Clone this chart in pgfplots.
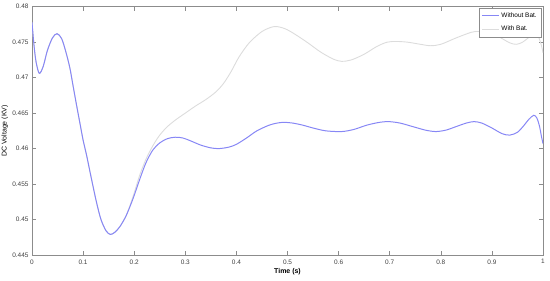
\documentclass[border=0pt]{standalone}
\usepackage{fontspec}
\setmainfont{Liberation Sans}
\usepackage{pgfplots}
\pgfplotsset{compat=1.18}
\definecolor{bl}{RGB}{135,135,245}
\definecolor{gr}{RGB}{220,220,220}
\definecolor{ax}{RGB}{140,140,140}
\begin{document}
\begin{tikzpicture}
\path[use as bounding box] (0,0) rectangle (550bp,281bp);
\begin{axis}[
  at={(32bp,26bp)}, anchor=south west,
  scale only axis, width=511bp, height=248.3bp,
  xmin=0, xmax=1, ymin=0.445, ymax=0.48,
  cycle list={{color=bl, line width=1bp},{color=gr, line width=0.9bp}},
  xtick={0,0.1,0.2,0.3,0.4,0.5,0.6,0.7,0.8,0.9,1},
  xticklabels={0,0.1,0.2,0.3,0.4,0.5,0.6,0.7,0.8,0.9,1},
  ytick={0.445,0.45,0.455,0.46,0.465,0.47,0.475,0.48},
  yticklabels={0.445,0.45,0.455,0.46,0.465,0.47,0.475,0.48},
  scaled ticks=false,
  tick align=inside, major tick length=4bp,
  tick style={color=ax, line width=0.6bp},
  axis line style={color=ax, line width=0.7bp},
  tick label style={font=\fontsize{6.5}{7}\selectfont, text=black!75},
  xticklabel style={yshift=-1bp},
  xlabel={\textbf{Time (s)}},
  ylabel={DC Voltage (KV)},
  label style={font=\fontsize{7}{8}\selectfont},
  xlabel style={at={(axis description cs:0.5,-0.068)}, anchor=center},
  ylabel style={at={(axis description cs:-0.053,0.5)}, anchor=center},
  legend style={at={(rel axis cs:0.996,0.994)}, anchor=north east, draw=ax,
    font=\fontsize{6.5}{7}\selectfont, inner xsep=2bp, inner ysep=2.5bp, row sep=3bp},
  legend cell align=left,
  legend image code/.code={\draw[#1] (0bp,0bp) -- (17bp,0bp);},
]
\addlegendimage{color=bl, line width=1bp}
\addlegendentry{Without Bat.}
\addlegendimage{color=gr, line width=0.9bp}
\addlegendentry{With Bat.}
\addplot[gr, line width=0.9bp, smooth, forget plot] coordinates {
(0,0.4778)(0.004,0.4745)(0.008,0.4722)(0.0143,0.4706)(0.022,0.4716)(0.03,0.4738)
(0.04,0.4756)(0.049,0.4762)(0.058,0.4755)(0.066,0.4737)(0.074,0.4714)(0.08,0.4690)
(0.087,0.4662)(0.094,0.4635)(0.1,0.4612)(0.107,0.4590)(0.115,0.4562)(0.126,0.4525)
(0.135,0.4500)(0.145,0.4484)(0.1534,0.4479)(0.162,0.4482)(0.172,0.4490)(0.1846,0.4506)
(0.198,0.4533)(0.2105,0.4562)(0.223,0.4585)(0.2365,0.4604)(0.25,0.4619)(0.265,0.4631)
(0.282,0.4641)(0.30,0.4650)(0.32,0.4660)(0.34,0.4669)(0.36,0.4680)(0.375,0.4692)
(0.39,0.4709)(0.405,0.4729)(0.425,0.4749)(0.45,0.4765)(0.474,0.4772)(0.495,0.4769)
(0.515,0.4761)(0.54,0.4749)(0.565,0.4736)(0.59,0.4726)(0.606,0.4723)(0.625,0.4725)
(0.65,0.4733)(0.675,0.4744)(0.695,0.4750)(0.713,0.4751)(0.735,0.4750)(0.76,0.4747)
(0.78,0.4745)(0.80,0.4747)(0.83,0.4756)(0.86,0.4764)(0.875,0.4765)(0.895,0.4763)
(0.915,0.4757)(0.935,0.4749)(0.948,0.4747)(0.96,0.4750)(0.975,0.4758)(0.985,0.4761)
(0.992,0.4756)(0.997,0.4745)(1.0,0.4735)
};
\addplot[bl, line width=1bp, smooth, forget plot] coordinates {
(0,0.4778)(0.004,0.4745)(0.008,0.4722)(0.0143,0.4706)(0.022,0.4716)(0.03,0.4738)
(0.04,0.4756)(0.049,0.4762)(0.058,0.4755)(0.066,0.4737)(0.074,0.4714)(0.08,0.4690)
(0.087,0.4662)(0.094,0.4635)(0.1,0.4612)(0.107,0.4590)(0.115,0.4562)(0.126,0.4525)
(0.135,0.4500)(0.145,0.4484)(0.1534,0.4479)(0.162,0.4482)(0.172,0.4490)(0.1846,0.4506)
(0.198,0.4530)(0.2105,0.4556)(0.223,0.4580)(0.2365,0.4598)(0.25,0.4608)(0.265,0.4614)
(0.28,0.4616)(0.295,0.4615)(0.31,0.4611)(0.33,0.4605)(0.35,0.4601)(0.366,0.4600)
(0.385,0.4602)(0.40,0.4606)(0.42,0.4615)(0.44,0.4625)(0.464,0.4633)(0.48,0.4636)
(0.493,0.4637)(0.51,0.4636)(0.53,0.4633)(0.55,0.4629)(0.575,0.4625)(0.606,0.4624)
(0.63,0.4627)(0.655,0.4633)(0.68,0.4637)(0.698,0.4638)(0.72,0.4636)(0.745,0.4631)
(0.77,0.4626)(0.79,0.4624)(0.81,0.4626)(0.83,0.4631)(0.85,0.4636)(0.865,0.4638)
(0.88,0.4636)(0.90,0.4629)(0.92,0.4621)(0.935,0.4619)(0.95,0.4623)(0.962,0.4632)
(0.972,0.4641)(0.982,0.4647)(0.988,0.4643)(0.993,0.4632)(0.997,0.4617)(1.0,0.4607)
};
\end{axis}
\end{tikzpicture}
\end{document}
